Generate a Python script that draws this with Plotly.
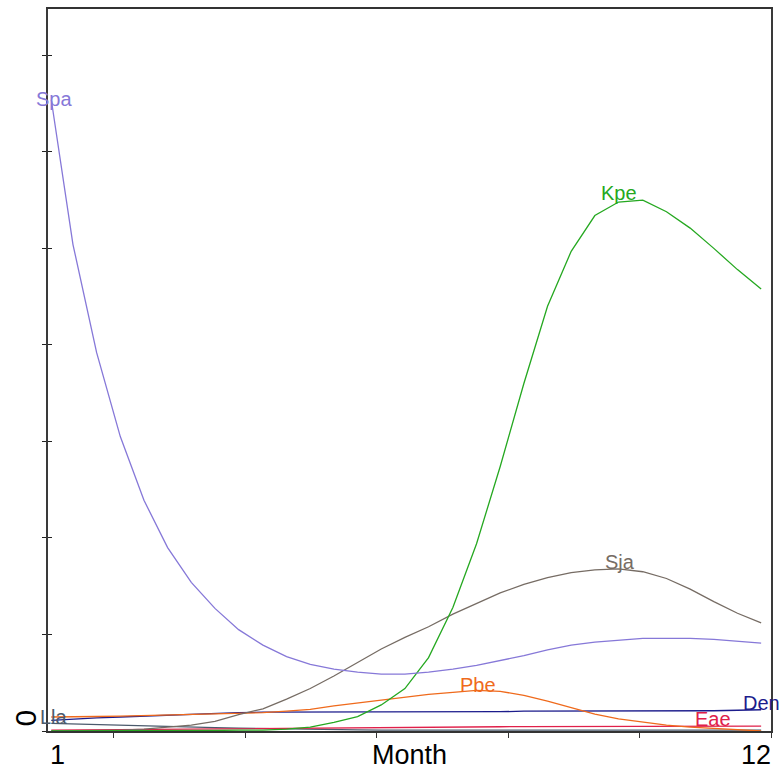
import plotly.graph_objects as go

months = [1.05, 1.38, 1.74, 2.10, 2.46, 2.82, 3.18, 3.54, 3.90, 4.27, 4.63,
          4.99, 5.35, 5.71, 6.07, 6.43, 6.79, 7.16, 7.52, 7.88, 8.24, 8.60,
          8.96, 9.32, 9.68, 10.05, 10.41, 10.77, 11.13, 11.49, 11.85]

spa = [6.54, 5.04, 3.92, 3.05, 2.39, 1.90, 1.54, 1.27, 1.05, 0.89, 0.77,
       0.69, 0.64, 0.61, 0.59, 0.59, 0.61, 0.64, 0.68, 0.73, 0.78, 0.84,
       0.89, 0.92, 0.94, 0.96, 0.96, 0.96, 0.95, 0.93, 0.91]
kpe = [0.0, 0.0, 0.0, 0.0, 0.0, 0.0, 0.0, 0.005, 0.01, 0.01, 0.02,
       0.04, 0.09, 0.15, 0.27, 0.44, 0.76, 1.28, 1.94, 2.74, 3.60, 4.40,
       4.97, 5.34, 5.48, 5.50, 5.38, 5.21, 5.00, 4.78, 4.58]
sja = [0.0, 0.0, 0.005, 0.01, 0.02, 0.04, 0.06, 0.10, 0.17, 0.23, 0.33,
       0.44, 0.57, 0.71, 0.85, 0.97, 1.08, 1.21, 1.32, 1.43, 1.52, 1.59,
       1.64, 1.67, 1.68, 1.65, 1.58, 1.47, 1.34, 1.22, 1.12]
pbe = [0.145, 0.145, 0.15, 0.155, 0.16, 0.165, 0.17, 0.175, 0.185, 0.19, 0.205,
       0.225, 0.26, 0.29, 0.32, 0.35, 0.38, 0.40, 0.42, 0.41, 0.37, 0.31,
       0.24, 0.175, 0.125, 0.09, 0.06, 0.04, 0.025, 0.01, 0.0]
den = [0.11, 0.125, 0.135, 0.145, 0.155, 0.165, 0.175, 0.185, 0.19, 0.195, 0.195,
       0.195, 0.195, 0.195, 0.195, 0.195, 0.195, 0.2, 0.2, 0.2, 0.205, 0.205,
       0.205, 0.205, 0.205, 0.205, 0.205, 0.205, 0.21, 0.215, 0.22]
eae = [0.01, 0.012, 0.014, 0.016, 0.018, 0.02, 0.022, 0.024, 0.026, 0.028, 0.03,
       0.032, 0.034, 0.036, 0.038, 0.04, 0.041, 0.042, 0.043, 0.044, 0.045, 0.046,
       0.047, 0.048, 0.049, 0.05, 0.05, 0.05, 0.05, 0.05, 0.05]
lla = [0.08, 0.073, 0.067, 0.06, 0.053, 0.047, 0.04, 0.035, 0.03, 0.025, 0.02,
       0.017, 0.014, 0.012, 0.01, 0.01, 0.01, 0.01, 0.01, 0.01, 0.01, 0.01,
       0.01, 0.01, 0.01, 0.01, 0.01, 0.01, 0.01, 0.01, 0.01]

series = [
    ("Lla", lla, "#4b5a6c"),
    ("Eae", eae, "#e0204a"),
    ("Den", den, "#1c1c8c"),
    ("Pbe", pbe, "#ef6a1c"),
    ("Sja", sja, "#766c64"),
    ("Kpe", kpe, "#25a820"),
    ("Spa", spa, "#8678d8"),
]

# label positions (month, value, anchor)
labels = {
    "Spa": (1.09, 6.55, "center"),
    "Kpe": (9.68, 5.57, "center"),
    "Sja": (9.70, 1.75, "center"),
    "Pbe": (7.54, 0.475, "center"),
    "Lla": (1.09, 0.145, "center"),
    "Den": (11.55, 0.29, "left"),
    "Eae": (11.12, 0.124, "center"),
}

FONT = "Arial, Liberation Sans, sans-serif"

fig = go.Figure()
for name, vals, col in series:
    fig.add_trace(go.Scatter(x=months, y=vals, mode="lines", name=name,
                             line=dict(color=col, width=1.3),
                             showlegend=False, hoverinfo="skip"))
    lx, ly, anc = labels[name]
    fig.add_annotation(x=lx, y=ly, text=name, showarrow=False,
                       xanchor=anc, yanchor="middle",
                       font=dict(family=FONT, size=20, color=col))

# dummy trace for overlay axis (inside ticks)
fig.add_trace(go.Scatter(x=[None], y=[None], yaxis="y2", showlegend=False))

fig.add_annotation(xref="paper", yref="paper", x=0, y=0, text="1",
                   showarrow=False, xanchor="left", yanchor="top", yshift=-7,
                   font=dict(family=FONT, size=27, color="black"))
fig.add_annotation(xref="paper", yref="paper", x=1, y=0, text="12",
                   showarrow=False, xanchor="right", yanchor="top", yshift=-7,
                   xshift=2,
                   font=dict(family=FONT, size=27, color="black"))
fig.add_annotation(xref="paper", yref="paper", x=0.5, y=0, text="Month",
                   showarrow=False, xanchor="center", yanchor="top", yshift=-7,
                   font=dict(family=FONT, size=27, color="black"))
fig.add_annotation(xref="paper", yref="y", x=0, y=0, text="0", textangle=-90,
                   showarrow=False, xanchor="right", yanchor="middle",
                   xshift=-5, yshift=13,
                   font=dict(family=FONT, size=30, color="black"))

fig.update_layout(
    width=780, height=770,
    margin=dict(l=48, r=7, t=7, b=39),
    paper_bgcolor="white", plot_bgcolor="white",
    xaxis=dict(range=[1, 12], showgrid=False, zeroline=False,
               tickvals=[2, 4, 6, 8, 10, 12], ticks="outside", ticklen=5,
               tickcolor="#333", showticklabels=False,
               showline=True, linecolor="#333", linewidth=1.5, mirror=True),
    yaxis=dict(range=[0, 7.48], showgrid=False, zeroline=False,
               tickvals=[0, 1, 2, 3, 4, 5, 6, 7], ticks="outside", ticklen=4,
               tickcolor="#222", showticklabels=False,
               showline=True, linecolor="#3a3a3a", linewidth=2, mirror=True),
    yaxis2=dict(range=[0, 7.48], overlaying="y", side="left", showgrid=False,
                zeroline=False, tickvals=[1, 2, 3, 4, 5, 6, 7], ticks="inside",
                ticklen=4, tickcolor="#222", showticklabels=False,
                showline=False),
)

fig.write_html("out.html")
